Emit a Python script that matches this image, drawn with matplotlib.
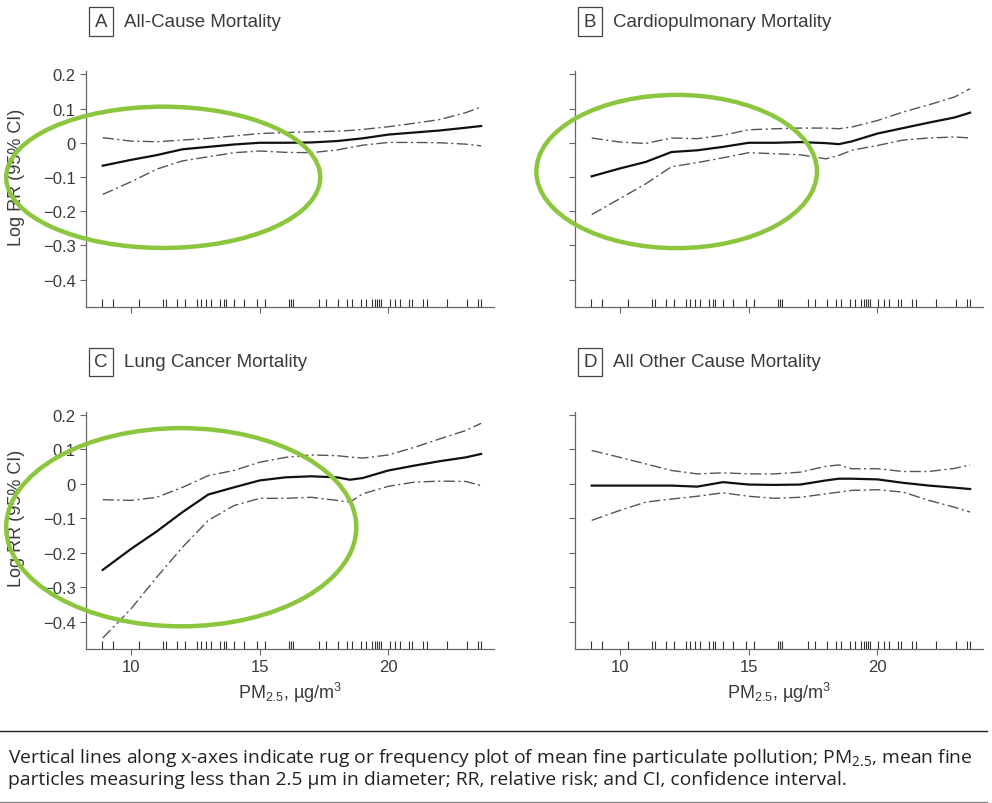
import numpy as np
import matplotlib.pyplot as plt
import matplotlib.transforms as mtransforms
from matplotlib.patches import Ellipse
from matplotlib.lines import Line2D

plt.rcParams['font.family'] = ['Liberation Sans', 'DejaVu Sans']

# PM2.5 grid (ug/m3) at which the curves were read
pm25 = [8.9, 10, 11, 12, 13, 14, 15, 16, 17, 18, 18.5, 19, 20, 21, 22, 23, 23.6]

# A  all-cause
a_fit = [-0.067, -0.05, -0.036, -0.019, -0.012, -0.005, 0, 0, 0.001, 0.005, 0.009, 0.013, 0.024, 0.03, 0.036, 0.044, 0.049]
a_hi = [0.015, 0.005, 0.003, 0.008, 0.013, 0.02, 0.027, 0.03, 0.032, 0.034, 0.036, 0.039, 0.047, 0.057, 0.068, 0.088, 0.105]
a_lo = [-0.151, -0.114, -0.077, -0.053, -0.041, -0.029, -0.024, -0.028, -0.029, -0.021, -0.014, -0.007, 0.001, 0.001, 0.0, -0.004, -0.009]

# B  cardiopulmonary
b_fit = [-0.098, -0.075, -0.056, -0.027, -0.022, -0.012, 0, 0, 0.002, -0.001, -0.004, 0.004, 0.027, 0.043, 0.059, 0.074, 0.088]
b_hi = [0.014, 0.002, -0.002, 0.014, 0.012, 0.022, 0.038, 0.041, 0.043, 0.043, 0.041, 0.046, 0.065, 0.09, 0.111, 0.134, 0.158]
b_lo = [-0.21, -0.163, -0.12, -0.07, -0.058, -0.044, -0.029, -0.032, -0.035, -0.047, -0.037, -0.022, -0.008, 0.008, 0.014, 0.017, 0.014]

# C  lung cancer
c_fit = [-0.25, -0.189, -0.138, -0.082, -0.031, -0.01, 0.01, 0.019, 0.022, 0.019, 0.012, 0.017, 0.039, 0.053, 0.066, 0.077, 0.087]
c_hi = [-0.046, -0.048, -0.039, -0.01, 0.024, 0.039, 0.063, 0.077, 0.084, 0.082, 0.078, 0.075, 0.084, 0.106, 0.131, 0.155, 0.176]
c_lo = [-0.448, -0.363, -0.271, -0.184, -0.106, -0.063, -0.042, -0.042, -0.039, -0.048, -0.053, -0.029, -0.007, 0.005, 0.008, 0.007, -0.005]

# D  all other causes
d_fit = [-0.005, -0.005, -0.005, -0.005, -0.008, 0.005, -0.002, -0.003, -0.002, 0.01, 0.015, 0.015, 0.013, 0.003, -0.005, -0.011, -0.015]
d_hi = [0.097, 0.077, 0.058, 0.039, 0.029, 0.032, 0.029, 0.029, 0.034, 0.051, 0.055, 0.044, 0.044, 0.036, 0.036, 0.045, 0.055]
d_lo = [-0.106, -0.077, -0.053, -0.044, -0.036, -0.026, -0.036, -0.042, -0.039, -0.029, -0.024, -0.019, -0.017, -0.024, -0.048, -0.068, -0.082]

# city mean PM2.5 values (rug)
rug = [8.87, 9.29, 10.32, 11.26, 11.35, 11.78, 12.1, 12.55, 12.73, 12.9, 13.11, 13.47, 13.63, 13.69,
       13.99, 14.4, 14.89, 15.21, 16.15, 16.2, 16.28, 17.31, 17.59, 18.04, 18.4, 18.6, 18.92, 19.11,
       19.37, 19.49, 19.56, 19.65, 19.72, 20.04, 20.27, 20.45, 20.79, 20.91, 21.33, 21.49, 22.29,
       23.06, 23.47, 23.58]

letters = ['A', 'B', 'C', 'D']
titles = ['All-Cause Mortality', 'Cardiopulmonary Mortality', 'Lung Cancer Mortality', 'All Other Cause Mortality']
fits = [a_fit, b_fit, c_fit, d_fit]
his = [a_hi, b_hi, c_hi, d_hi]
los = [a_lo, b_lo, c_lo, d_lo]

yticks = [0.2, 0.1, 0, -0.1, -0.2, -0.3, -0.4]
ytick_labels = ['0.2', '0.1', '0', '\u22120.1', '\u22120.2', '\u22120.3', '\u22120.4']
xticks = [10, 15, 20]

# green highlight ellipses drawn over panels A-C (cx, cy, w, h in data units)
highlights = {0: (11.25, -0.101, 12.2, 0.413),
              1: (12.2, -0.084, 10.9, 0.448),
              2: (11.95, -0.126, 13.6, 0.576)}

txt = '#3a3a3a'
axc = '#666666'

fig = plt.figure(figsize=(9.92, 8.04), dpi=100)
boxes = [[0.0867, 0.617, 0.4113, 0.2935],
         [0.5796, 0.617, 0.4113, 0.2935],
         [0.0867, 0.1915, 0.4113, 0.2953],
         [0.5796, 0.1915, 0.4113, 0.2953]]

for i, box in enumerate(boxes):
    ax = fig.add_axes(box)
    ax.plot(pm25, his[i], color='#555555', lw=1.0, dashes=(8, 2.5, 1.5, 2.5))
    ax.plot(pm25, los[i], color='#555555', lw=1.0, dashes=(8, 2.5, 1.5, 2.5))
    ax.plot(pm25, fits[i], color='#111111', lw=1.6)

    trans = mtransforms.blended_transform_factory(ax.transData, ax.transAxes)
    ax.vlines(rug, 0, 0.034, transform=trans, color='#333333', lw=0.8)

    ax.set_xlim(8.25, 24.1)
    ax.set_ylim(-0.48, 0.21)
    for s in ['top', 'right']:
        ax.spines[s].set_visible(False)
    for s in ['left', 'bottom']:
        ax.spines[s].set_color(axc)
        ax.spines[s].set_linewidth(0.9)
    ax.set_yticks(yticks)
    ax.set_xticks(xticks)
    ax.tick_params(colors=axc, labelcolor=txt, labelsize=12, length=4, width=0.8)
    if i % 2 == 0:
        ax.set_yticklabels(ytick_labels)
        ax.set_ylabel('Log RR (95% CI)', fontsize=13, color=txt)
        ax.yaxis.set_label_coords(-0.15, 0.555)
    else:
        ax.set_yticklabels([])
    if i >= 2:
        ax.set_xlabel('PM$_{\\mathregular{2.5}}$, \u00b5g/m$^{\\mathregular{3}}$', fontsize=13, color=txt, labelpad=4)
    else:
        ax.set_xticklabels([])

    ax.text(0.037, 1.21, letters[i], transform=ax.transAxes, ha='center', va='center',
            fontsize=13.5, color=txt,
            bbox=dict(boxstyle='square,pad=0.3', fc='white', ec='#444444', lw=0.9))
    ax.text(0.093, 1.21, titles[i], transform=ax.transAxes, ha='left', va='center',
            fontsize=13.5, color=txt)

    if i in highlights:
        cx, cy, w, h = highlights[i]
        ax.add_patch(Ellipse((cx, cy), w, h, fill=False, ec='#8cc63f', lw=3.2, clip_on=False, zorder=5))

# footnote
fig.add_artist(Line2D([0.0, 0.995], [1 - 732 / 804, 1 - 732 / 804], color='#222222', lw=1.0))
fig.add_artist(Line2D([0.0, 0.995], [1 - 803 / 804, 1 - 803 / 804], color='#888888', lw=1.0))
note = ('Vertical lines along x-axes indicate rug or frequency plot of mean fine particulate pollution; '
        'PM$_{\\mathregular{2.5}}$, mean fine\n'
        'particles measuring less than 2.5 \u00b5m in diameter; RR, relative risk; and CI, confidence interval.')
fig.text(8 / 992, 1 - 768 / 804, note, fontsize=13.9, family=['Open Sans', 'DejaVu Sans'],
         color='#222222', ha='left', va='center', linespacing=1.1)

fig.savefig('out.png', dpi=100)
